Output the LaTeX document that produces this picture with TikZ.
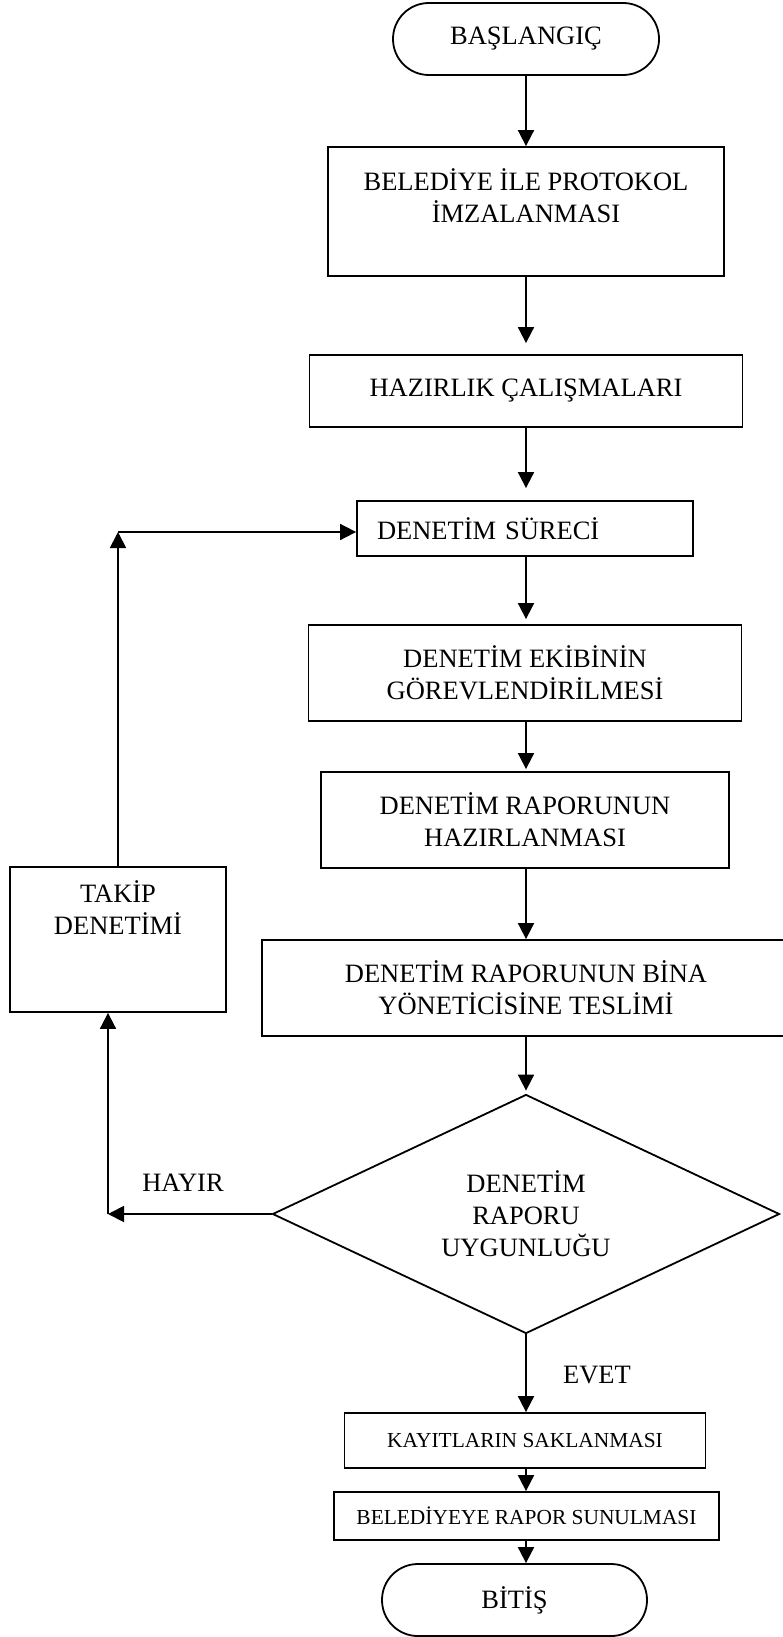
\documentclass[tikz,border=0pt]{standalone}
\usepackage{fontspec}
\setmainfont{Liberation Serif}
\usetikzlibrary{arrows.meta,shapes.geometric}
\tikzset{
  base/.style={draw, line width=1.8pt, inner sep=0pt, align=center,
    font=\fontsize{26.5}{32}\selectfont},
  box/.style={base, rectangle},
  smallbox/.style={base, rectangle, font=\fontsize{21.4}{26}\selectfont},
  term/.style={base, rectangle, rounded corners=35.9pt},
  dec/.style={base, diamond, aspect=2},
  arr/.style={line width=1.8pt, -{Triangle[length=16pt,width=16pt]}},
  lbl/.style={inner sep=0pt, font=\fontsize{26.5}{32}\selectfont},
}
\begin{document}
\begin{tikzpicture}[x=1pt,y=-1pt]
\useasboundingbox (0,0) rectangle (783,1637);
\clip (0,0) rectangle (783,1637);
% nodes
\node[term, minimum width=266pt, minimum height=72pt] (start) at (526,39) {BAŞLANGIÇ};
\node[box, minimum width=396pt, minimum height=129pt] (protokol) at (526,211.5)
  {BELEDİYE İLE PROTOKOL\\İMZALANMASI\\~};
\node[box, minimum width=433pt, minimum height=72pt] (hazirlik) at (526,391) {HAZIRLIK ÇALIŞMALARI};
\node[box, minimum width=336pt, minimum height=55pt, text width=296pt, align=left] (surec) at (525,528.5) {DENETİM SÜRECİ};
\node[box, minimum width=433pt, minimum height=96pt] (ekip) at (525,673)
  {DENETİM EKİBİNİN\\GÖREVLENDİRİLMESİ};
\node[box, minimum width=408pt, minimum height=96pt] (rapor) at (525,820)
  {DENETİM RAPORUNUN\\HAZIRLANMASI};
\node[box, minimum width=528pt, minimum height=96pt] (teslim) at (526,988)
  {DENETİM RAPORUNUN BİNA\\YÖNETİCİSİNE TESLİMİ};
\node[dec, minimum width=507pt, minimum height=239pt] (karar) at (526,1214)
  {DENETİM\\RAPORU\\UYGUNLUĞU};
\node[box, minimum width=216pt, minimum height=145pt] (takip) at (118,939.5)
  {TAKİP\\DENETİMİ\\~\\~};
\node[smallbox, minimum width=361pt, minimum height=55pt] (kayit) at (525,1440.5) {KAYITLARIN SAKLANMASI};
\node[smallbox, minimum width=385pt, minimum height=48pt] (sunum) at (526.5,1516) {BELEDİYEYE RAPOR SUNULMASI};
\node[term, minimum width=265pt, minimum height=72pt] (bitis) at (514.5,1600) {BİTİŞ};
% labels
\node[lbl] (hayir) at (183,1183) {HAYIR};
\node[lbl] (evet) at (597,1375) {EVET};
% connectors
\draw[arr] (start.south) -- (start.south |- protokol.north);
\draw[arr, shorten >=11pt] (protokol.south) -- (protokol.south |- hazirlik.north);
\draw[arr, shorten >=12pt] (hazirlik.south) -- (hazirlik.south |- surec.north);
\draw[arr, shorten >=5pt] (hazirlik.south |- surec.south) -- (hazirlik.south |- ekip.north);
\draw[arr, shorten >=2pt] (hazirlik.south |- ekip.south) -- (hazirlik.south |- rapor.north);
\draw[arr] (hazirlik.south |- rapor.south) -- (hazirlik.south |- teslim.north);
\draw[arr, shorten >=3pt] (teslim.south) -- (karar.north);
\draw[arr] (karar.south) -- (karar.south |- kayit.north);
\draw[arr] (karar.south |- kayit.south) -- (karar.south |- sunum.north);
\draw[arr] (karar.south |- sunum.south) -- (karar.south |- bitis.north);
% feedback loop
\coordinate (c1) at (118,532);
\draw[arr] (takip.north) -- (c1);
\draw[arr] (c1) -- (c1 -| surec.west);
\coordinate (c2) at (108,1214);
\draw[arr] (karar.west) -- (c2);
\draw[arr] (c2) -- (c2 |- takip.south);
\end{tikzpicture}
\end{document}
